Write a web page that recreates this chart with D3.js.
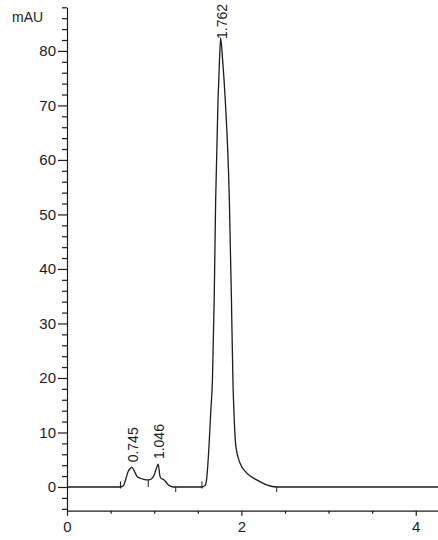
<!DOCTYPE html>
<html>
<head>
<meta charset="utf-8">
<script src="https://cdn.jsdelivr.net/npm/d3@7"></script>
<style>
  html, body { margin: 0; padding: 0; background: #fff; }
  svg { display: block; font-family: "Liberation Sans", Arial, sans-serif; }
</style>
</head>
<body>
<svg id="chart" width="438" height="540"></svg>
<script>
// Detector trace: retention time (min) and absorbance (mAU)
const times = [0, 0.40, 0.60, 0.645, 0.67, 0.70, 0.725, 0.745, 0.77, 0.80, 0.84, 0.88, 0.932, 0.97, 1.00, 1.025, 1.046, 1.067, 1.085, 1.105, 1.13, 1.16, 1.22, 1.40, 1.548,
  1.585, 1.600, 1.615, 1.628, 1.648, 1.668, 1.688, 1.705, 1.732, 1.749, 1.762, 1.785, 1.815, 1.862, 1.886, 1.903, 1.915, 1.938, 1.984, 2.060, 2.175, 2.290, 2.405, 3.0, 3.6, 4.255];
const signal = [0, 0, 0, 0.2, 1.2, 2.8, 3.4, 3.6, 3.0, 2.0, 1.6, 1.4, 1.3, 1.5, 2.2, 3.4, 4.2, 1.9, 1.5, 1.4, 1.0, 0.4, 0, 0, 0,
  0.3, 1.3, 4.0, 7.3, 13.6, 19.6, 34.3, 52.7, 71.0, 78.3, 82.4, 78.3, 71.0, 52.7, 34.3, 19.6, 13.6, 7.3, 4.4, 2.6, 1.3, 0.4, 0, 0, 0, 0];

// Labelled peaks
const peakTimes = [0.745, 1.046, 1.762];
const peakHeights = [3.6, 4.2, 82.4];
const peakLabels = ["0.745", "1.046", "1.762"];

// Integration marks on the baseline
const startMarks = [0.613, 1.548];
const endMarks = [1.247, 2.405];
const valleyMarks = [0.932];
const valleyHeights = [1.3];

// Axis ticks
const yMajor = [0, 10, 20, 30, 40, 50, 60, 70, 80];
const yMinor = [-4, -2, 2, 4, 6, 8, 12, 14, 16, 18, 22, 24, 26, 28, 32, 34, 36, 38, 42, 44, 46, 48, 52, 54, 56, 58, 62, 64, 66, 68, 72, 74, 76, 78, 82, 84, 86, 88];
const xMajor = [0, 2, 4];
const xMinor = [0.5, 1, 1.5, 2.5, 3, 3.5];
const yUnit = "mAU";

const ink = "#1c1c1c";
const svg = d3.select("#chart");

const x = d3.scaleLinear().domain([0, 4.255]).range([67, 438]);
const y = d3.scaleLinear().domain([-4.35, 88]).range([510.7, 7.3]);
const axisY = y(-4.35);

// Y axis: minor ticks then labelled ticks
const gyMinor = svg.append("g").attr("transform", `translate(${x(0)},0)`)
  .call(d3.axisLeft(y).tickValues(yMinor).tickSize(5).tickSizeOuter(0).tickFormat(""));
gyMinor.select(".domain").remove();
const gy = svg.append("g").attr("transform", `translate(${x(0)},0)`)
  .call(d3.axisLeft(y).tickValues(yMajor).tickSize(9).tickSizeOuter(0).tickPadding(2).tickFormat(d3.format("d")));
gy.selectAll("text").attr("font-size", 15).attr("fill", ink);

// X axis
const gxMinor = svg.append("g").attr("transform", `translate(0,${axisY})`)
  .call(d3.axisBottom(x).tickValues(xMinor).tickSize(3).tickSizeOuter(0).tickFormat(""));
gxMinor.select(".domain").remove();
const gx = svg.append("g").attr("transform", `translate(0,${axisY})`)
  .call(d3.axisBottom(x).tickValues(xMajor).tickSize(5).tickSizeOuter(0).tickPadding(6).tickFormat(d3.format("d")));
gx.selectAll("text").attr("font-size", 15).attr("fill", ink);

svg.selectAll(".domain, .tick line").attr("stroke", ink).attr("stroke-width", 1.2);

svg.append("text").attr("x", 12).attr("y", 22).attr("font-size", 14).attr("fill", ink).text(yUnit);

// Trace
const pts = times.map((t, i) => [t, signal[i]]);
const line = d3.line().x(d => x(d[0])).y(d => y(d[1])).curve(d3.curveMonotoneX);
svg.append("path").datum(pts).attr("d", line)
  .attr("fill", "none").attr("stroke", ink).attr("stroke-width", 1.3);

// Integration marks
svg.append("g").selectAll("line").data(startMarks).join("line")
  .attr("x1", d => x(d)).attr("x2", d => x(d))
  .attr("y1", y(0) - 5.5).attr("y2", y(0) + 1.5)
  .attr("stroke", ink).attr("stroke-width", 1);
svg.append("g").selectAll("line").data(endMarks).join("line")
  .attr("x1", d => x(d)).attr("x2", d => x(d))
  .attr("y1", y(0)).attr("y2", y(0) + 5)
  .attr("stroke", ink).attr("stroke-width", 1);
svg.append("g").selectAll("line").data(valleyMarks).join("line")
  .attr("x1", d => x(d)).attr("x2", d => x(d))
  .attr("y1", (d, i) => y(valleyHeights[i])).attr("y2", y(0))
  .attr("stroke", ink).attr("stroke-width", 1);

// Retention-time labels above each peak, reading upward
const labels = svg.append("g");
peakTimes.forEach((t, i) => {
  const tx = labels.append("text")
    .attr("font-size", 14).attr("fill", ink)
    .attr("text-anchor", "start").attr("dominant-baseline", "central")
    .text(peakLabels[i]);
  const len = tx.node().getComputedTextLength();
  let base = y(peakHeights[i]) - 5;
  if (base - len < 2) base = 4 + len;
  tx.attr("transform", `translate(${x(t) + 1},${base}) rotate(-90)`);
});
</script>
</body>
</html>
